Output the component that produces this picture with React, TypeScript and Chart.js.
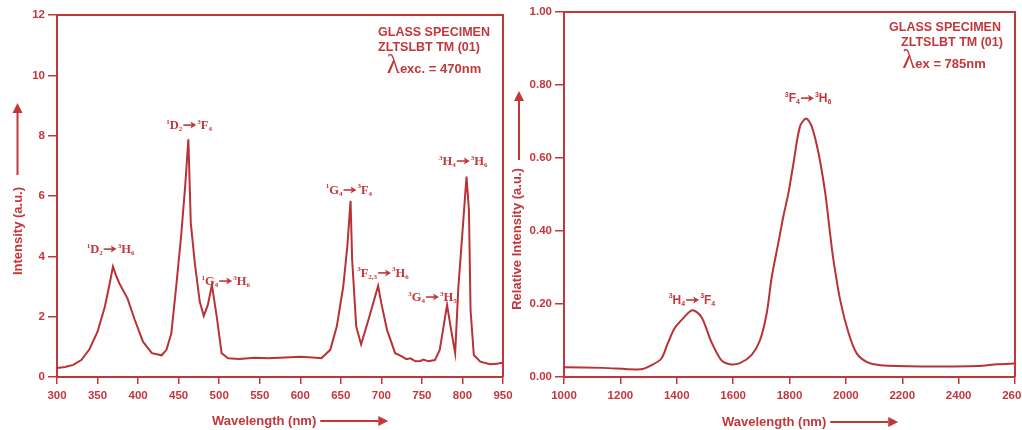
import React, { useEffect, useRef } from 'react';
import { Chart, registerables } from 'chart.js';

Chart.register(...registerables);

const TEXT_RED = '#c3373b';
const CURVE_RED = '#b83236';
const SANS = '"Liberation Sans", Arial, sans-serif';
const SERIF = '"Liberation Serif", "Times New Roman", serif';

// ---------- Left panel: visible emission, λexc = 470 nm ----------
const VIS_WAVELENGTH = [
  300, 310, 320, 330, 340, 350, 359, 365, 369, 373, 377, 387, 396, 406, 417, 429, 435, 441, 447, 453,
  458, 462, 465, 470, 476, 481, 486, 491, 497, 503, 511, 525, 544, 560, 581, 600, 615, 626, 637, 645,
  653, 658, 662, 664, 669, 675, 684, 696, 700, 707, 717, 724, 731, 736, 742, 748, 752, 758, 766, 772,
  781, 786, 791, 795, 799, 802, 805, 808, 810, 814, 822, 834, 842, 850,
];
const VIS_INTENSITY = [
  0.30, 0.33, 0.40, 0.56, 0.92, 1.50, 2.33, 3.10, 3.66, 3.35, 3.10, 2.60, 1.89, 1.17, 0.79, 0.72, 0.90, 1.45, 3.00, 4.65,
  6.30, 7.88, 5.10, 3.77, 2.50, 2.02, 2.39, 3.05, 2.00, 0.79, 0.62, 0.60, 0.64, 0.62, 0.65, 0.67, 0.65, 0.62, 0.90, 1.67,
  3.00, 4.32, 5.84, 3.88, 1.67, 1.08, 1.89, 3.02, 2.44, 1.56, 0.79, 0.70, 0.59, 0.62, 0.52, 0.53, 0.58, 0.52, 0.56, 0.90,
  2.39, 1.56, 0.79, 3.00, 4.43, 5.53, 6.64, 5.53, 2.22, 0.73, 0.51, 0.42, 0.44, 0.47,
];
const VIS_X_TICK_LABELS = ['300', '350', '400', '450', '500', '550', '600', '650', '700', '750', '800', '950'];
const VIS_PEAK_LABELS = ['^1D_2→^3H_6', '^1D_2→^3F_4', '^1G_4→^3H_6', '^1G_4→^3F_4', '^3F_{2,3}→^3H_6', '^3G_4→^3H_5', '^3H_4→^3H_6'];
const VIS_PEAK_LABEL_X = [366, 463, 508, 660, 702, 763, 801];
const VIS_PEAK_LABEL_Y = [4.24, 8.35, 3.18, 6.2, 3.45, 2.65, 7.16];
const VIS_SPECIMEN = ['GLASS SPECIMEN', 'ZLTSLBT TM (01)'];
const VIS_EXCITATION = 'exc. = 470nm';
const VIS_Y_TITLE = 'Intensity (a.u.)';

// ---------- Right panel: NIR emission, λex = 785 nm ----------
const NIR_WAVELENGTH = [
  1000, 1137, 1273, 1309, 1345, 1368, 1392, 1422, 1455, 1487, 1523, 1558, 1588, 1624, 1665, 1695, 1719, 1737, 1760,
  1778, 1796, 1814, 1837, 1859, 1879, 1903, 1927, 1944, 1956, 1980, 2010, 2039, 2075, 2123, 2289, 2467, 2539, 2600,
];
const NIR_INTENSITY = [
  0.027, 0.025, 0.021, 0.032, 0.050, 0.092, 0.133, 0.160, 0.183, 0.165, 0.096, 0.046, 0.035, 0.038, 0.060, 0.100, 0.174, 0.274, 0.366,
  0.439, 0.503, 0.585, 0.686, 0.708, 0.686, 0.613, 0.503, 0.393, 0.320, 0.210, 0.119, 0.064, 0.041, 0.032, 0.029, 0.030, 0.035, 0.037,
];
const NIR_PEAK_LABELS = ['^3H_4→^3F_4', '^3F_4→^3H_6'];
const NIR_PEAK_LABEL_X = [1454, 1866];
const NIR_PEAK_LABEL_Y = [0.211, 0.764];
const NIR_SPECIMEN = ['GLASS SPECIMEN', 'ZLTSLBT TM (01)'];
const NIR_EXCITATION = 'ex = 785nm';
const NIR_Y_TITLE = 'Relative Intensity (a.u.)';

const X_TITLE = 'Wavelength (nm)';

type Seg = { t: string; k: 'n' | 'sup' | 'sub'; w: number };

function parseRich(s: string): Seg[] {
  const segs: Seg[] = [];
  let i = 0;
  while (i < s.length) {
    const c = s[i];
    if (c === '^' || c === '_') {
      const k = c === '^' ? 'sup' : 'sub';
      let t = '';
      if (s[i + 1] === '{') {
        const j = s.indexOf('}', i + 2);
        t = s.slice(i + 2, j);
        i = j + 1;
      } else {
        t = s[i + 1];
        i += 2;
      }
      segs.push({ t, k, w: 0 });
    } else {
      segs.push({ t: c, k: 'n', w: 0 });
      i++;
    }
  }
  return segs;
}

const ARROW_W = 15;

function drawRich(ctx: CanvasRenderingContext2D, s: string, cx: number, cy: number, family: string, size: number) {
  const segs = parseRich(s);
  const big = `bold ${size}px ${family}`;
  const small = `bold 7px ${family}`;
  let total = 0;
  for (const g of segs) {
    if (g.t === '→') {
      g.w = ARROW_W;
    } else {
      ctx.font = g.k === 'n' ? big : small;
      g.w = ctx.measureText(g.t).width;
    }
    total += g.w;
  }
  let x = cx - total / 2;
  const base = cy + 4;
  ctx.textAlign = 'left';
  ctx.textBaseline = 'alphabetic';
  for (const g of segs) {
    if (g.t === '→') {
      const ay = base - 4;
      ctx.lineWidth = 1.6;
      ctx.beginPath();
      ctx.moveTo(x + 1, ay);
      ctx.lineTo(x + ARROW_W - 5, ay);
      ctx.stroke();
      ctx.beginPath();
      ctx.moveTo(x + ARROW_W - 1, ay);
      ctx.lineTo(x + ARROW_W - 7, ay - 3.5);
      ctx.lineTo(x + ARROW_W - 5.5, ay);
      ctx.lineTo(x + ARROW_W - 7, ay + 3.5);
      ctx.closePath();
      ctx.fill();
    } else {
      ctx.font = g.k === 'n' ? big : small;
      const y = g.k === 'sup' ? base - 5.5 : g.k === 'sub' ? base + 2 : base;
      ctx.fillText(g.t, x, y);
    }
    x += g.w;
  }
}

function drawArrow(ctx: CanvasRenderingContext2D, x1: number, y1: number, x2: number, y2: number) {
  const head = 10;
  const half = 5;
  const a = Math.atan2(y2 - y1, x2 - x1);
  const c = Math.cos(a);
  const s = Math.sin(a);
  ctx.beginPath();
  ctx.moveTo(x1, y1);
  ctx.lineTo(x2 - head * c, y2 - head * s);
  ctx.stroke();
  ctx.beginPath();
  ctx.moveTo(x2, y2);
  ctx.lineTo(x2 - head * c - half * s, y2 - head * s + half * c);
  ctx.lineTo(x2 - head * c + half * s, y2 - head * s - half * c);
  ctx.closePath();
  ctx.fill();
}

interface Spec {
  xs: number[];
  ys: number[];
  xMin: number; xMax: number; xStep: number;
  yMin: number; yMax: number; yStep: number;
  xTickLabels: string[] | null;
  yDecimals: number;
  canvasWidth: number;
  yAxisWidth: number;
  padTop: number;
  padRight: number;
  tension: number;
  peakLabels: string[]; peakX: number[]; peakY: number[]; peakFamily: string; peakSize: number;
  specimen: string[]; specimenDx: number[]; specimenDy: number[];
  excitation: string; excDx: number; excDy: number;
  yTitle: string; yTitleDx: number; yTitleCy: number;
  yArrowDx: number; yArrowFrom: number; yArrowTo: number;
  xTitleDx: number; xTitleDy: number;
}

function makeDecor(sp: Spec) {
  return {
    id: 'decor',
    afterDraw(chart: any) {
      const ctx: CanvasRenderingContext2D = chart.ctx;
      const a = chart.chartArea;
      const xs = chart.scales.x;
      const ys = chart.scales.y;
      ctx.save();
      ctx.strokeStyle = TEXT_RED;
      ctx.fillStyle = TEXT_RED;
      ctx.lineWidth = 2;
      // top and right frame
      ctx.beginPath();
      ctx.moveTo(a.left, a.top);
      ctx.lineTo(a.right, a.top);
      ctx.lineTo(a.right, a.bottom);
      ctx.stroke();

      // peak labels
      sp.peakLabels.forEach((lab, i) => {
        drawRich(ctx, lab, xs.getPixelForValue(sp.peakX[i]), ys.getPixelForValue(sp.peakY[i]), sp.peakFamily, sp.peakSize);
      });

      // specimen info
      ctx.textAlign = 'center';
      ctx.textBaseline = 'middle';
      ctx.font = `bold 12.5px ${SANS}`;
      sp.specimen.forEach((t, i) => {
        ctx.fillText(t, a.right + sp.specimenDx[i], a.top + sp.specimenDy[i]);
      });
      // excitation line: λ + text
      ctx.font = `27px ${SERIF}`;
      const lw = ctx.measureText('λ').width;
      ctx.font = `bold 13px ${SANS}`;
      const tw = ctx.measureText(sp.excitation).width;
      const startX = a.right + sp.excDx - (lw + tw) / 2;
      const cy = a.top + sp.excDy;
      ctx.textAlign = 'left';
      ctx.textBaseline = 'alphabetic';
      ctx.font = `27px ${SERIF}`;
      ctx.fillText('λ', startX, cy + 5);
      ctx.font = `bold 13px ${SANS}`;
      ctx.fillText(sp.excitation, startX + lw, cy + 5);

      // y title (rotated) + arrow
      ctx.save();
      ctx.translate(a.left + sp.yTitleDx, a.top + sp.yTitleCy);
      ctx.rotate(-Math.PI / 2);
      ctx.textAlign = 'center';
      ctx.textBaseline = 'middle';
      ctx.font = `bold 13px ${SANS}`;
      ctx.fillText(sp.yTitle, 0, 0);
      ctx.restore();
      ctx.lineWidth = 2;
      drawArrow(ctx, a.left + sp.yArrowDx, a.top + sp.yArrowFrom, a.left + sp.yArrowDx, a.top + sp.yArrowTo);

      // x title + arrow
      ctx.textAlign = 'left';
      ctx.textBaseline = 'middle';
      ctx.font = `bold 13px ${SANS}`;
      const xtx = a.left + sp.xTitleDx;
      const xty = a.bottom + sp.xTitleDy;
      ctx.fillText(X_TITLE, xtx, xty);
      const xw = ctx.measureText(X_TITLE).width;
      drawArrow(ctx, xtx + xw + 4, xty, xtx + xw + 72, xty);
      ctx.restore();
    },
  };
}

function buildChart(canvas: HTMLCanvasElement, sp: Spec) {
  const tickFont = { family: SANS, size: 11.5, weight: 'bold' as const };
  return new Chart(canvas, {
    type: 'line',
    data: {
      datasets: [
        {
          data: sp.xs.map((x, i) => ({ x, y: sp.ys[i] })),
          borderColor: CURVE_RED,
          borderWidth: 2,
          pointRadius: 0,
          tension: sp.tension,
          fill: false,
        },
      ],
    },
    options: {
      responsive: false,
      animation: false,
      devicePixelRatio: 1,
      layout: { padding: { left: 0, top: sp.padTop, right: sp.padRight, bottom: 0 } },
      plugins: { legend: { display: false }, tooltip: { enabled: false } },
      scales: {
        x: {
          type: 'linear',
          min: sp.xMin,
          max: sp.xMax,
          ticks: {
            stepSize: sp.xStep,
            color: TEXT_RED,
            font: tickFont,
            padding: 5,
            maxRotation: 0,
            autoSkip: false,
            callback: (v: any, i: number) => (sp.xTickLabels ? sp.xTickLabels[i] : String(v)),
          },
          grid: { drawOnChartArea: false, drawTicks: true, tickLength: 7, color: TEXT_RED, lineWidth: 1.5 },
          border: { color: TEXT_RED, width: 2 },
          afterFit: (s: any) => { s.height = 430 - 377; },
        },
        y: {
          type: 'linear',
          min: sp.yMin,
          max: sp.yMax,
          ticks: {
            stepSize: sp.yStep,
            color: TEXT_RED,
            font: tickFont,
            padding: 3,
            callback: (v: any) => Number(v).toFixed(sp.yDecimals),
          },
          grid: { drawOnChartArea: false, drawTicks: true, tickLength: 9, color: TEXT_RED, lineWidth: 1.5 },
          border: { color: TEXT_RED, width: 2 },
          afterFit: (s: any) => { s.width = sp.yAxisWidth; },
        },
      },
    } as any,
    plugins: [makeDecor(sp)],
  });
}

const VIS_SPEC: Spec = {
  xs: VIS_WAVELENGTH, ys: VIS_INTENSITY,
  xMin: 300, xMax: 850, xStep: 50,
  yMin: 0, yMax: 12, yStep: 2,
  xTickLabels: VIS_X_TICK_LABELS,
  yDecimals: 0,
  canvasWidth: 530,
  yAxisWidth: 57, padTop: 15, padRight: 27,
  tension: 0,
  peakLabels: VIS_PEAK_LABELS, peakX: VIS_PEAK_LABEL_X, peakY: VIS_PEAK_LABEL_Y, peakFamily: SERIF, peakSize: 12.5,
  specimen: VIS_SPECIMEN, specimenDx: [-69, -74], specimenDy: [18, 33],
  excitation: VIS_EXCITATION, excDx: -69, excDy: 53,
  yTitle: VIS_Y_TITLE, yTitleDx: -39, yTitleCy: 216,
  yArrowDx: -39.5, yArrowFrom: 160, yArrowTo: 88,
  xTitleDx: 155, xTitleDy: 44,
};

const NIR_SPEC: Spec = {
  xs: NIR_WAVELENGTH, ys: NIR_INTENSITY,
  xMin: 1000, xMax: 2600, xStep: 200,
  yMin: 0, yMax: 1, yStep: 0.2,
  xTickLabels: null,
  yDecimals: 2,
  canvasWidth: 530,
  yAxisWidth: 59, padTop: 12, padRight: 20,
  tension: 0.3,
  peakLabels: NIR_PEAK_LABELS, peakX: NIR_PEAK_LABEL_X, peakY: NIR_PEAK_LABEL_Y, peakFamily: SANS, peakSize: 12,
  specimen: NIR_SPECIMEN, specimenDx: [-70, -63], specimenDy: [16, 31],
  excitation: NIR_EXCITATION, excDx: -71, excDy: 51,
  yTitle: NIR_Y_TITLE, yTitleDx: -47, yTitleCy: 227,
  yArrowDx: -45, yArrowFrom: 148, yArrowTo: 79,
  xTitleDx: 158, xTitleDy: 45,
};

function Panel({ spec, left }: { spec: Spec; left: number }) {
  const ref = useRef<HTMLCanvasElement>(null);
  useEffect(() => {
    if (!ref.current) return;
    const chart = buildChart(ref.current, spec);
    return () => chart.destroy();
  }, [spec]);
  return (
    <canvas
      ref={ref}
      width={spec.canvasWidth}
      height={430}
      style={{ position: 'absolute', left, top: 0, width: spec.canvasWidth, height: 430 }}
    />
  );
}

export default function App() {
  return (
    <div
      style={{
        position: 'fixed',
        left: 0,
        top: 0,
        width: 1022,
        height: 430,
        overflow: 'hidden',
        background: '#ffffff',
      }}
    >
      <Panel spec={VIS_SPEC} left={0} />
      <Panel spec={NIR_SPEC} left={505} />
    </div>
  );
}
